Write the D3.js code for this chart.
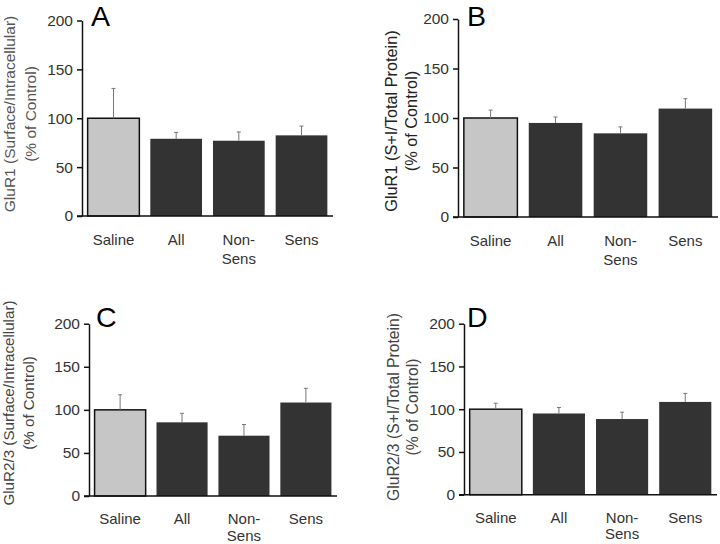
<!DOCTYPE html>
<html><head><meta charset="utf-8">
<script src="https://cdn.jsdelivr.net/npm/d3@7"></script>
<style>body{margin:0;background:#fff}svg{display:block}</style>
</head><body>
<script>
const categories = ["Saline", "All", "Non-Sens", "Sens"];
const categoryLines = [["Saline"], ["All"], ["Non-", "Sens"], ["Sens"]];
const yTicks = [0, 50, 100, 150, 200];
const panelLetters = ["A", "B", "C", "D"];
const yLabelsLine1 = ["GluR1 (Surface/Intracellular)", "GluR1 (S+I/Total Protein)", "GluR2/3 (Surface/Intracellular)", "GluR2/3 (S+I/Total Protein)"];
const yLabelLine2 = "(% of Control)";
const meansA = [100, 79, 77, 82.5];
const errTopA = [130.5, 85.5, 86, 92];
const meansB = [100, 95, 84.5, 109.5];
const errTopB = [108, 101, 91, 119.5];
const meansC = [100, 85.5, 70, 108.5];
const errTopC = [117.5, 96, 83, 125];
const meansD = [100, 95, 88.5, 108.5];
const errTopD = [107, 102, 96.5, 118.5];

const W = 720, H = 544;
const svg = d3.select("body").append("svg").attr("width", W).attr("height", H);
const FONT = "'Liberation Sans', Arial, sans-serif";

// layout (positions only)
const layout = [
  {x0: 82, x1: 333, yt: 20.5, yb: 216, l1x: 10, l2x: 31, ly: 114, letX: 92, letY: 26, lab: 15.5, labCol: "#555", catY: 29, catDy: 18.5},
  {x0: 458, x1: 718, yt: 19, yb: 217, l1x: 391, l2x: 411, ly: 121, letX: 468, letY: 26, lab: 16.3, labCol: "#222", catY: 29, catDy: 18.5},
  {x0: 89, x1: 337, yt: 323.7, yb: 496, l1x: 9, l2x: 29, ly: 403, letX: 97, letY: 327, lab: 15.2, labCol: "#444", catY: 28, catDy: 16.5},
  {x0: 464, x1: 717, yt: 323.7, yb: 494.7, l1x: 393, l2x: 412, ly: 407, letX: 468, letY: 327, lab: 15.7, labCol: "#444", catY: 28, catDy: 16.5}
];
const means = [meansA, meansB, meansC, meansD];
const errs = [errTopA, errTopB, errTopC, errTopD];

layout.forEach((L, p) => {
  const g = svg.append("g");
  const x = d3.scaleBand().domain(categories).range([L.x0, L.x1]).paddingInner(0.175).paddingOuter(0.09);
  const y = d3.scaleLinear().domain([0, 200]).range([L.yb, L.yt]);

  // bars
  g.selectAll("rect.bar").data(categories).enter().append("rect")
    .attr("x", d => x(d)).attr("width", x.bandwidth())
    .attr("y", (d, i) => y(means[p][i]))
    .attr("height", (d, i) => y(0) - y(means[p][i]))
    .attr("fill", (d, i) => i === 0 ? "#c6c6c6" : "#333333")
    .attr("stroke", (d, i) => i === 0 ? "#111" : "none")
    .attr("stroke-width", 1.5);

  // error bars (upper only)
  const eb = g.selectAll("g.err").data(categories).enter().append("g");
  eb.append("line")
    .attr("x1", d => x(d) + x.bandwidth() / 2).attr("x2", d => x(d) + x.bandwidth() / 2)
    .attr("y1", (d, i) => y(means[p][i])).attr("y2", (d, i) => y(errs[p][i]))
    .attr("stroke", "#777").attr("stroke-width", 1);
  eb.append("line")
    .attr("x1", d => x(d) + x.bandwidth() / 2 - 2).attr("x2", d => x(d) + x.bandwidth() / 2 + 2)
    .attr("y1", (d, i) => y(errs[p][i])).attr("y2", (d, i) => y(errs[p][i]))
    .attr("stroke", "#777").attr("stroke-width", 1);

  // y axis
  const ya = g.append("g").attr("transform", `translate(${L.x0},0)`)
    .call(d3.axisLeft(y).tickValues(yTicks).tickSize(5).tickPadding(4).tickSizeOuter(0));
  ya.select(".domain").attr("stroke", "#111").attr("stroke-width", 1.5);
  ya.selectAll(".tick line").attr("stroke", "#111").attr("stroke-width", 1.5);
  ya.selectAll(".tick text").attr("font-family", FONT).attr("font-size", 15.5).attr("fill", "#333");

  // x axis line
  g.append("line").attr("x1", L.x0 - 5).attr("x2", L.x1).attr("y1", y(0)).attr("y2", y(0))
    .attr("stroke", "#111").attr("stroke-width", 1.5);

  // category labels
  const cl = g.selectAll("text.cat").data(categories).enter().append("text")
    .attr("text-anchor", "middle").attr("font-family", FONT).attr("font-size", 15).attr("fill", "#333")
    .attr("x", d => x(d) + x.bandwidth() / 2).attr("y", y(0) + L.catY);
  cl.each(function(d, i) {
    const t = d3.select(this);
    categoryLines[i].forEach((s, k) => {
      t.append("tspan").attr("x", x(d) + x.bandwidth() / 2).attr("dy", k === 0 ? 0 : L.catDy).text(s);
    });
  });

  // y label
  g.append("text").attr("transform", `translate(${L.l1x},${L.ly}) rotate(-90)`)
    .attr("text-anchor", "middle").attr("dy", "0.35em").attr("font-family", FONT)
    .attr("font-size", L.lab).attr("fill", L.labCol).text(yLabelsLine1[p]);
  g.append("text").attr("transform", `translate(${L.l2x},${L.ly}) rotate(-90)`)
    .attr("text-anchor", "middle").attr("dy", "0.35em").attr("font-family", FONT)
    .attr("font-size", L.lab).attr("fill", L.labCol).text(yLabelLine2);

  // panel letter
  g.append("text").attr("x", L.letX - 1).attr("y", L.letY).attr("font-family", FONT)
    .attr("font-size", 28.5).attr("fill", "#000").text(panelLetters[p]);
});
</script>
</body></html>
